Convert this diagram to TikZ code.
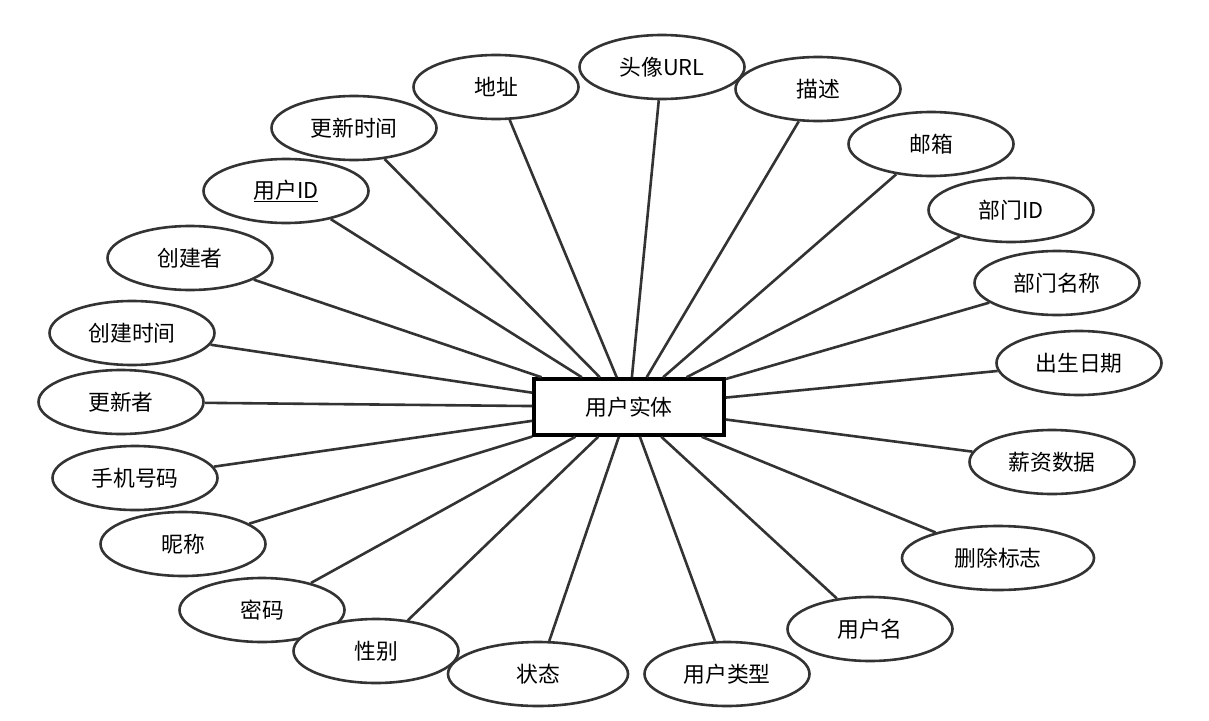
\documentclass[tikz,border=0pt]{standalone}
\usepackage{fontspec}
\setmainfont{Noto Sans CJK SC}
\usetikzlibrary{shapes.geometric}
\definecolor{erline}{HTML}{333333}

\begin{document}
\begin{tikzpicture}[
    x=1pt, y=-1pt,
    font=\fontsize{21.8}{26}\selectfont,
    entity/.style={draw=black, line width=3.5pt, fill=white, minimum width=190pt, minimum height=56pt, inner sep=0pt},
    attr/.style={ellipse, draw=erline, line width=2.6pt, fill=white, minimum width=165pt, minimum height=64pt, inner sep=0pt},
    link/.style={draw=erline, line width=2.6pt}
]
\useasboundingbox (0,0) rectangle (1209,720);
\node[entity] (user) at (629,407) {用户实体};
\node[attr] (avatar) at (662,67) {头像URL};
\node[attr] (addr) at (496,87) {地址};
\node[attr] (desc) at (818,89) {描述};
\node[attr] (utime) at (354,128) {更新时间};
\node[attr] (email) at (931,144) {邮箱};
\node[attr] (uid) at (286,191) {\underline{用户ID}};
\node[attr] (deptid) at (1011,210) {部门ID};
\node[attr] (creator) at (190,258) {创建者};
\node[attr] (deptname) at (1057,283) {部门名称};
\node[attr] (ctime) at (132,333) {创建时间};
\node[attr] (birth) at (1079,363) {出生日期};
\node[attr] (updater) at (121,402) {更新者};
\node[attr] (salary) at (1052,462) {薪资数据};
\node[attr] (phone) at (135,478) {手机号码};
\node[attr] (nick) at (183,544) {昵称};
\node[attr, minimum width=192pt] (delflag) at (998,558) {删除标志};
\node[attr] (pwd) at (262,610) {密码};
\node[attr] (uname) at (870,629) {用户名};
\node[attr] (gender) at (376,651) {性别};
\node[attr, minimum width=180pt] (status) at (538,674) {状态};
\node[attr] (utype) at (727,674) {用户类型};
\draw[link] (avatar) -- (user);
\draw[link] (addr) -- (user);
\draw[link] (desc) -- (user);
\draw[link] (utime) -- (user);
\draw[link] (email) -- (user);
\draw[link] (uid) -- (user);
\draw[link] (deptid) -- (user);
\draw[link] (creator) -- (user);
\draw[link] (deptname) -- (user);
\draw[link] (ctime) -- (user);
\draw[link] (birth) -- (user);
\draw[link] (updater) -- (user);
\draw[link] (salary) -- (user);
\draw[link] (phone) -- (user);
\draw[link] (nick) -- (user);
\draw[link] (delflag) -- (user);
\draw[link] (pwd) -- (user);
\draw[link] (uname) -- (user);
\draw[link] (gender) -- (user);
\draw[link] (status) -- (user);
\draw[link] (utype) -- (user);
\end{tikzpicture}
\end{document}
